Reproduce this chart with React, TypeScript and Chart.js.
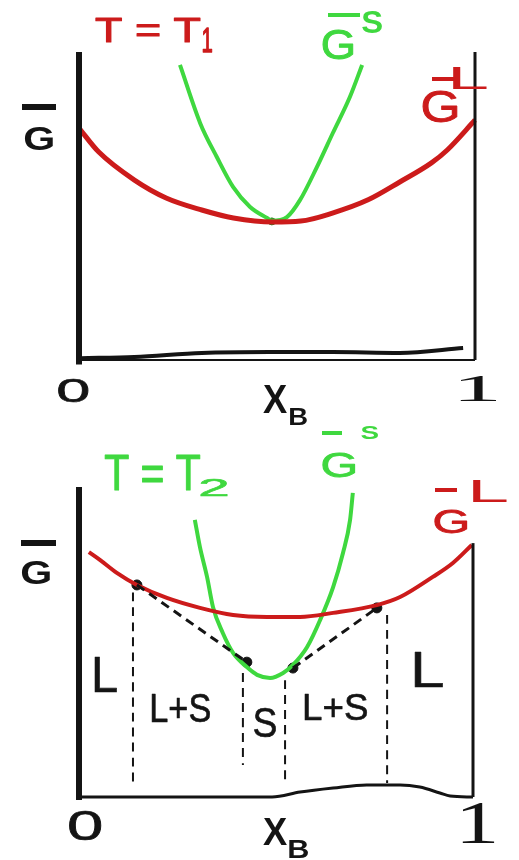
import React, { useEffect, useRef } from "react";
import { Chart, registerables } from "chart.js";

Chart.register(...registerables);

// ---- Panel 1: T = T1 (solid and liquid curves touch at one composition) ----
const liquidX1 = [0, 0.05, 0.14, 0.22, 0.31, 0.39, 0.49, 0.56, 0.64, 0.73, 0.81, 0.89, 0.93, 1];
const liquidG1 = [7.53, 6.75, 5.84, 5.26, 4.87, 4.61, 4.48, 4.51, 4.77, 5.2, 5.78, 6.4, 6.82, 7.79];
const solidX1 = [0.255, 0.306, 0.348, 0.389, 0.432, 0.475, 0.487, 0.525, 0.558, 0.601, 0.641, 0.684, 0.715];
const solidG1 = [9.58, 7.69, 6.59, 5.62, 4.97, 4.61, 4.52, 4.64, 5.19, 6.27, 7.37, 8.54, 9.58];
const touchX1 = [0.487];
const touchG1 = [4.5];
const baseX1 = [0.005, 0.14, 0.31, 0.48, 0.64, 0.81, 0.97];
const baseG1 = [0.06, 0.1, 0.23, 0.26, 0.26, 0.23, 0.39];

// ---- Panel 2: T = T2 (common tangents define the two-phase regions) ----
const liquidX2 = [0.025, 0.053, 0.096, 0.147, 0.223, 0.307, 0.391, 0.477, 0.561, 0.645, 0.756, 0.815, 0.898, 0.949, 0.997];
const liquidG2 = [7.9, 7.65, 7.23, 6.84, 6.42, 6.1, 5.87, 5.81, 5.81, 5.94, 6.19, 6.45, 7.1, 7.55, 8.13];
const solidX2 = [0.294, 0.307, 0.325, 0.34, 0.365, 0.391, 0.426, 0.452, 0.485, 0.518, 0.543, 0.579, 0.612, 0.645, 0.67, 0.688, 0.695];
const solidG2 = [8.94, 8.06, 7.1, 6.13, 5.29, 4.65, 4.19, 3.94, 3.84, 4.0, 4.26, 4.84, 5.71, 6.77, 7.87, 8.94, 9.81];
const tangentX2 = [0.147, 0.426, 0.543, 0.756];
const tangentG2 = [6.84, 4.35, 4.16, 6.1];
const boundaryX2 = [0.137, 0.416, 0.523, 0.782];
const boundaryTopG2 = [6.6, 4.0, 3.77, 5.87];
const boundaryBottomG2 = [0.45, 1.03, 0.45, 0.45];
const baseX2 = [0, 0.49, 0.561, 0.645, 0.73, 0.815, 0.865, 0.916, 0.942, 1];
const baseG2 = [0, 0, 0.16, 0.29, 0.39, 0.39, 0.32, 0.13, 0.03, 0];
const rightAxisTopG2 = 8.19;

const xTicks = ["0", "1"];

const RED = "#cc1b1b";
const GREEN = "#3fd83f";
const INK = "#141414";
const SANS = '"Liberation Sans", Arial, sans-serif';
const SERIF = '"Liberation Serif", "DejaVu Serif", serif';

const pts = (xs: number[], ys: number[]) => xs.map((x, i) => ({ x, y: ys[i] }));

type Box = {
  text: string;
  font: string;
  x0: number;
  x1: number;
  y0: number;
  y1: number;
  color: string;
  thick?: number;
};

// Draws text so that its ink fills the given box (hand-lettered proportions)
function fitText(ctx: CanvasRenderingContext2D, b: Box) {
  ctx.save();
  ctx.font = b.font.replace("{s}", "100px");
  const m = ctx.measureText(b.text);
  const w = m.actualBoundingBoxLeft + m.actualBoundingBoxRight;
  const h = m.actualBoundingBoxAscent + m.actualBoundingBoxDescent;
  const sx = (b.x1 - b.x0) / w;
  const sy = (b.y1 - b.y0) / h;
  ctx.translate(b.x0, b.y0);
  ctx.scale(sx, sy);
  ctx.fillStyle = b.color;
  ctx.textAlign = "left";
  ctx.textBaseline = "alphabetic";
  ctx.fillText(b.text, m.actualBoundingBoxLeft, m.actualBoundingBoxAscent);
  if (b.thick) {
    ctx.strokeStyle = b.color;
    ctx.lineJoin = "round";
    ctx.lineWidth = b.thick / ((sx + sy) / 2);
    ctx.strokeText(b.text, m.actualBoundingBoxLeft, m.actualBoundingBoxAscent);
  }
  ctx.restore();
}

const line = (data: { x: number; y: number }[], color: string, width: number, extra: any = {}) => ({
  data,
  borderColor: color,
  backgroundColor: color,
  borderWidth: width,
  pointRadius: 0,
  cubicInterpolationMode: "monotone",
  fill: false,
  clip: false,
  ...extra,
});

function makeLabelsPlugin(offsetY: number, boxes: Box[], bars: [number, number, number, number, string][]) {
  return {
    id: "panelLabels",
    afterDatasetsDraw(chart: any) {
      const ctx = chart.ctx as CanvasRenderingContext2D;
      ctx.save();
      ctx.translate(0, -offsetY);
      for (const [x0, y0, x1, y1, c] of bars) {
        ctx.fillStyle = c;
        ctx.fillRect(x0, y0, x1 - x0, y1 - y0);
      }
      for (const b of boxes) fitText(ctx, b);
      ctx.restore();
    },
  };
}

function panelOptions(pad: { left: number; right: number; top: number; bottom: number }) {
  return {
    responsive: false,
    animation: false as const,
    events: [],
    layout: { padding: pad },
    plugins: { legend: { display: false }, tooltip: { enabled: false } },
    scales: {
      x: { type: "linear" as const, min: 0, max: 1, display: false },
      y: { type: "linear" as const, min: 0, max: 10, display: false },
    },
  };
}

const bold = `bold {s} ${SANS}`;
const plain = `{s} ${SANS}`;
const serif = `{s} ${SERIF}`;

const dot = (xs: number[], ys: number[], color: string, r: number) =>
  line(pts(xs, ys), color, 1, {
    showLine: false,
    pointRadius: r,
    pointStyle: "circle",
    pointBackgroundColor: color,
    pointBorderColor: color,
    pointBorderWidth: 1,
  });

export default function App() {
  const ref1 = useRef<HTMLCanvasElement>(null);
  const ref2 = useRef<HTMLCanvasElement>(null);

  useEffect(() => {
    const top = new Chart(ref1.current!, {
      type: "line",
      data: {
        datasets: [
          line(pts([0, 0], [-0.15, 10]), INK, 6),
          line(pts([0, 1], [0, 0]), INK, 2),
          line(pts([1, 1], [0, 10]), INK, 3),
          line(pts(baseX1, baseG1), INK, 4),
          line(pts(liquidX1, liquidG1), RED, 5),
          line(pts(solidX1, solidG1), GREEN, 4),
          dot(touchX1, touchG1, "#2f7a1e", 3.5),
        ],
      },
      options: panelOptions({ left: 79, right: 44, top: 52, bottom: 70 }) as any,
      plugins: [
        makeLabelsPlugin(
          0,
          [
            { text: "G", font: bold, x0: 25, x1: 53, y0: 127, y1: 150, color: INK },
            { text: xTicks[0], font: plain, x0: 58, x1: 88, y0: 378, y1: 402, color: INK, thick: 0.8 },
            { text: "X", font: bold, x0: 263, x1: 287, y0: 385, y1: 413, color: INK },
            { text: "B", font: bold, x0: 290, x1: 307, y0: 408, y1: 425, color: INK },
            { text: xTicks[1], font: serif, x0: 460, x1: 496, y0: 376, y1: 401, color: INK },
            { text: "T = T", font: plain, x0: 96, x1: 200, y0: 17, y1: 42, color: RED, thick: 1.2 },
            { text: "1", font: plain, x0: 203, x1: 212, y0: 28, y1: 52, color: RED, thick: 1 },
            { text: "G", font: plain, x0: 323, x1: 353, y0: 29, y1: 59, color: GREEN, thick: 1 },
            { text: "S", font: bold, x0: 362, x1: 382, y0: 11, y1: 33, color: GREEN },
            { text: "G", font: plain, x0: 423, x1: 457, y0: 91, y1: 122, color: RED, thick: 1 },
            { text: "L", font: plain, x0: 453, x1: 487, y0: 67, y1: 89, color: RED },
          ],
          [
            [22, 104, 56, 110, INK],
            [328, 13, 360, 17, GREEN],
            [432, 77, 457, 81, RED],
          ]
        ),
      ],
    });

    const dash = { borderDash: [9, 6] };
    const bottom = new Chart(ref2.current!, {
      type: "line",
      data: {
        datasets: [
          line(pts([0, 0], [-0.1, 10]), INK, 6),
          line(pts([1, 1], [0, rightAxisTopG2]), INK, 3),
          line(pts(baseX2, baseG2), INK, 3),
          ...boundaryX2.map((x, i) =>
            line(pts([x, x], [boundaryTopG2[i], boundaryBottomG2[i]]), INK, 2, dash)
          ),
          line(pts(tangentX2.slice(0, 2), tangentG2.slice(0, 2)), INK, 3, dash),
          line(pts(tangentX2.slice(2), tangentG2.slice(2)), INK, 3, dash),
          line(pts(liquidX2, liquidG2), RED, 4),
          line(pts(solidX2, solidG2), GREEN, 4),
          dot(tangentX2, tangentG2, INK, 5),
        ],
      },
      options: panelOptions({ left: 79, right: 46, top: 67, bottom: 63 }) as any,
      plugins: [
        makeLabelsPlugin(
          420,
          [
            { text: "G", font: bold, x0: 22, x1: 50, y0: 560, y1: 584, color: INK },
            { text: xTicks[0], font: plain, x0: 69, x1: 101, y0: 810, y1: 840, color: INK, thick: 0.8 },
            { text: "X", font: bold, x0: 263, x1: 287, y0: 818, y1: 845, color: INK },
            { text: "B", font: bold, x0: 289, x1: 308, y0: 840, y1: 858, color: INK },
            { text: xTicks[1], font: serif, x0: 462, x1: 494, y0: 803, y1: 843, color: INK },
            { text: "T = T", font: plain, x0: 105, x1: 200, y0: 455, y1: 490, color: GREEN, thick: 1 },
            { text: "2", font: plain, x0: 201, x1: 227, y0: 479, y1: 496, color: GREEN, thick: 1 },
            { text: "G", font: plain, x0: 323, x1: 355, y0: 452, y1: 477, color: GREEN, thick: 1 },
            { text: "S", font: bold, x0: 361, x1: 378, y0: 426, y1: 439, color: GREEN },
            { text: "G", font: plain, x0: 435, x1: 467, y0: 510, y1: 533, color: RED, thick: 1 },
            { text: "L", font: plain, x0: 473, x1: 507, y0: 480, y1: 502, color: RED },
            { text: "L", font: plain, x0: 95, x1: 117, y0: 658, y1: 692, color: INK, thick: 0.6 },
            { text: "L+S", font: plain, x0: 152, x1: 210, y0: 693, y1: 722, color: INK, thick: 0.6 },
            { text: "S", font: plain, x0: 254, x1: 276, y0: 707, y1: 737, color: INK, thick: 0.6 },
            { text: "L+S", font: plain, x0: 305, x1: 367, y0: 693, y1: 720, color: INK, thick: 0.6 },
            { text: "L", font: plain, x0: 415, x1: 443, y0: 653, y1: 687, color: INK, thick: 0.6 },
          ],
          [
            [21, 540, 56, 546, INK],
            [322, 431, 342, 435, GREEN],
            [435, 488, 457, 492, RED],
          ]
        ),
      ],
    });

    return () => {
      top.destroy();
      bottom.destroy();
    };
  }, []);

  return (
    <div style={{ position: "fixed", left: 0, top: 0, width: 519, height: 860, background: "#fff" }}>
      <canvas ref={ref1} width={519} height={430} style={{ position: "absolute", left: 0, top: 0 }} />
      <canvas ref={ref2} width={519} height={440} style={{ position: "absolute", left: 0, top: 420 }} />
    </div>
  );
}
